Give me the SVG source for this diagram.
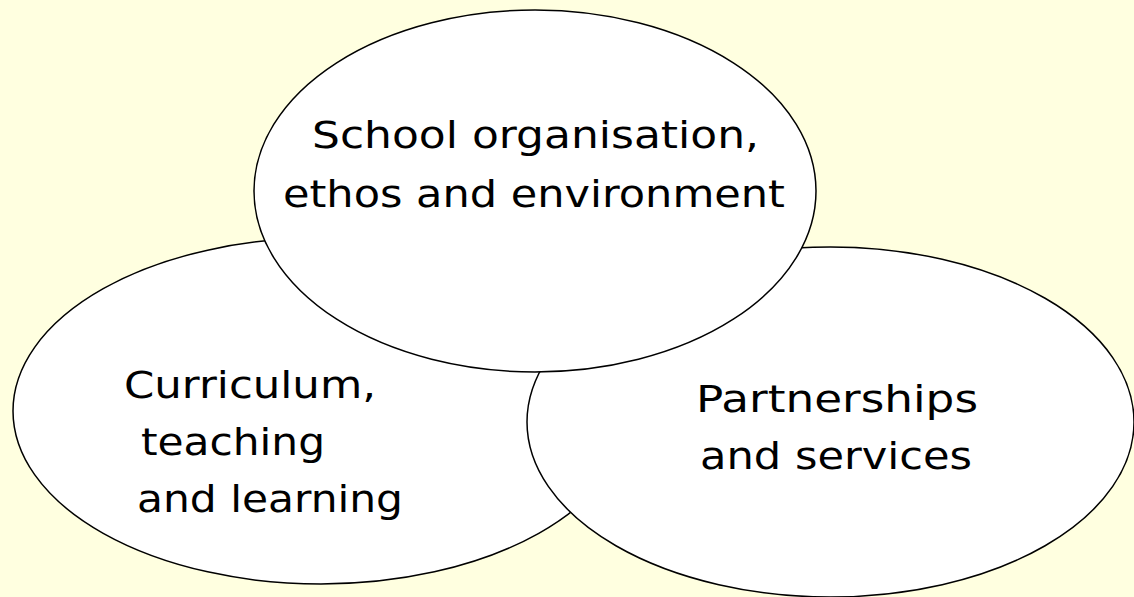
<svg xmlns="http://www.w3.org/2000/svg" width="1134" height="597" viewBox="0 0 1134 597">
<style>
.bg{fill:#FFFFE0}
.el{fill:#FFFFFF;stroke:#000000;stroke-width:1.5}
.t{font-family:"DejaVu Sans","Noto Sans",sans-serif;font-size:38px;fill:#000000}
</style>
<rect class="bg" x="0" y="0" width="1134" height="597"/>
<g id="connectors"></g>
<g id="node-curriculum">
<ellipse class="el" cx="321" cy="411" rx="308" ry="173"/>
<text class="t" x="124" y="398" textLength="252" lengthAdjust="spacingAndGlyphs">Curriculum,</text>
<text class="t" x="141" y="455" textLength="184" lengthAdjust="spacingAndGlyphs">teaching</text>
<text class="t" x="137" y="512" textLength="266" lengthAdjust="spacingAndGlyphs">and learning</text>
</g>
<g id="node-partnerships">
<ellipse class="el" cx="830.5" cy="422" rx="303.5" ry="175"/>
<text class="t" x="696" y="412" textLength="282" lengthAdjust="spacingAndGlyphs">Partnerships</text>
<text class="t" x="700" y="469" textLength="272" lengthAdjust="spacingAndGlyphs">and services</text>
</g>
<g id="node-school">
<ellipse class="el" cx="535" cy="191" rx="281" ry="181"/>
<text class="t" x="312" y="148" textLength="447" lengthAdjust="spacingAndGlyphs">School organisation,</text>
<text class="t" x="283" y="207" textLength="502" lengthAdjust="spacingAndGlyphs">ethos and environment</text>
</g>
</svg>
